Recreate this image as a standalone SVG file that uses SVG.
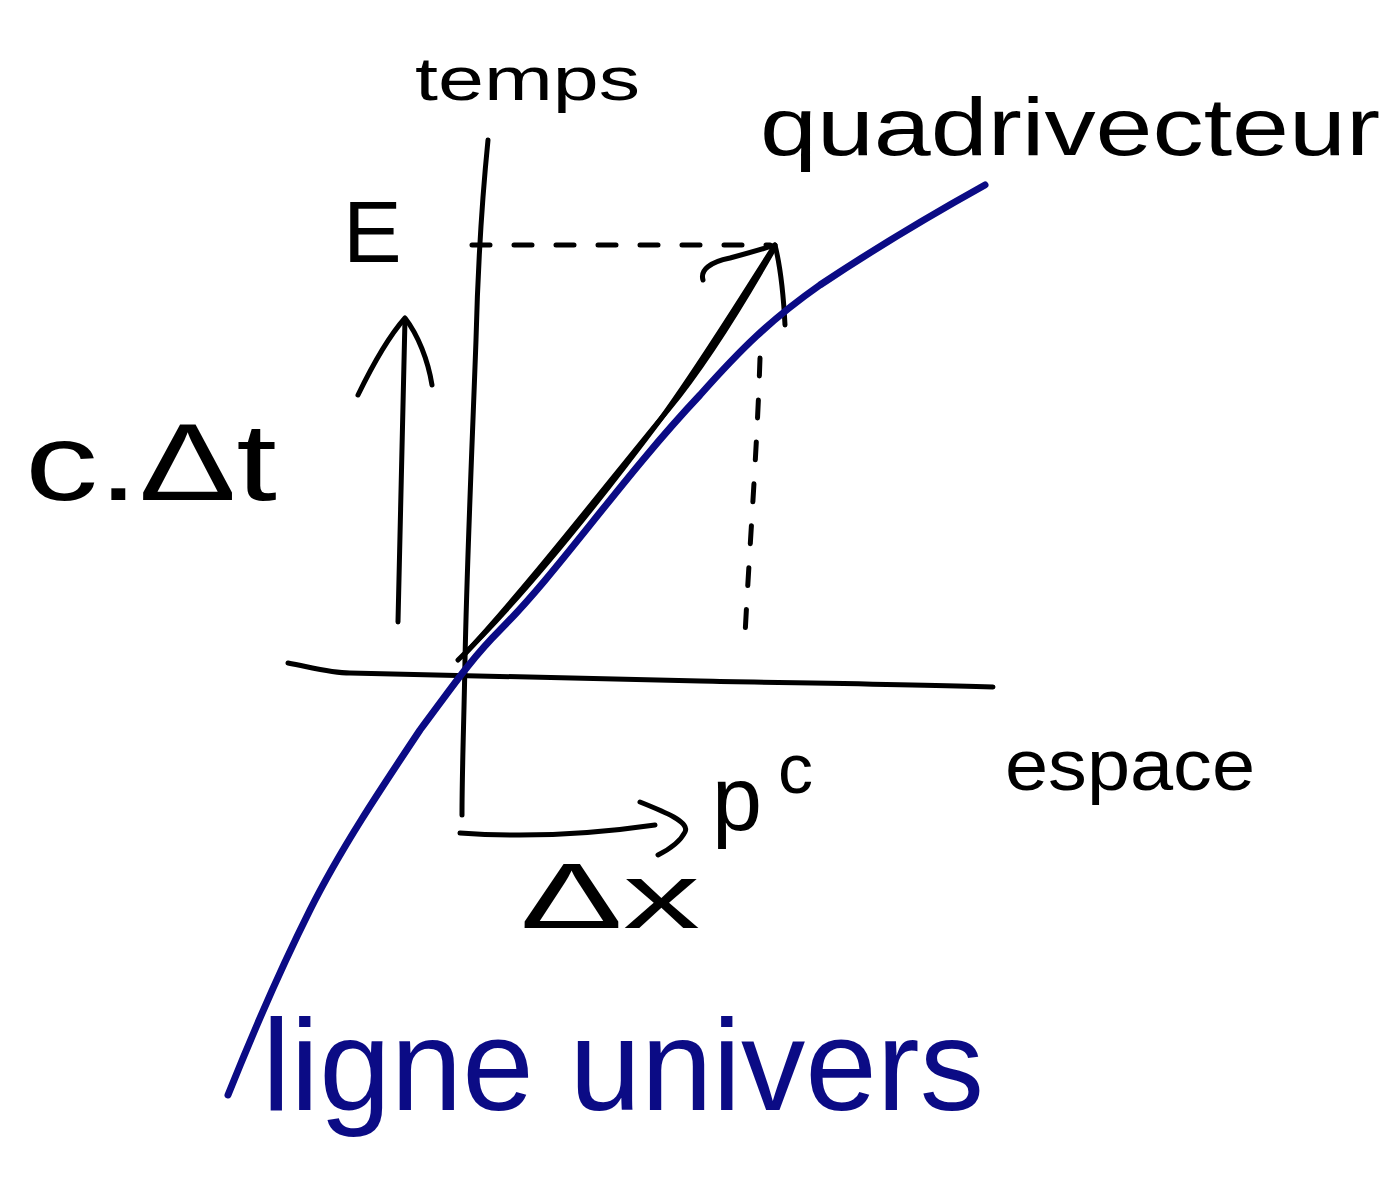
<svg xmlns="http://www.w3.org/2000/svg" width="1397" height="1188" viewBox="0 0 1397 1188">
<style>
.ink{fill:none;stroke:#000;stroke-width:5;stroke-linecap:round;stroke-linejoin:round}
.dash{fill:none;stroke:#000;stroke-width:5;stroke-linecap:round;stroke-dasharray:18 24}
.blue{fill:none;stroke:#0b0b85;stroke-width:7;stroke-linecap:round;stroke-linejoin:round}
.t{font-family:"Liberation Sans","DejaVu Sans",sans-serif;fill:#000}
.tb{font-family:"Liberation Sans","DejaVu Sans",sans-serif;fill:#0b0b85}
</style>
<rect width="1397" height="1188" fill="#fff"/>
<g id="connectors">
<path class="ink" d="M488,140 C482,200 478,260 476,340 C472,450 467,560 465,660 C464,720 462,770 462,815"/>
<path class="ink" d="M288,663 C310,667 330,673 350,673 C450,676 560,678 700,681 C800,683 900,684 993,687"/>
<path class="dash" d="M472,245 L770,245"/>
<path class="dash" d="M760,358 C757,450 750,540 745,635"/>
<path class="ink" d="M458,660 C520,600 600,500 660,420 C700,365 740,300 775,245"/>
<path class="ink" stroke-width="3" d="M463,656 C525,590 610,480 668,410 C705,365 745,300 775,247"/>
<path class="ink" d="M703,280 C700,270 710,262 730,258 C745,254 760,250 775,245 C780,265 783,285 785,325"/>
<path class="blue" d="M228,1095 C250,1040 280,970 310,910 C340,850 380,790 420,730 C450,690 470,660 500,630 C560,570 620,480 700,395 C740,350 770,320 820,285 C880,245 940,210 985,185"/>
<path class="ink" d="M398,622 C400,520 402,420 405,320"/>
<path class="ink" d="M358,395 C375,360 390,335 405,318 C418,335 428,360 432,385"/>
<path class="ink" d="M460,833 C530,838 600,833 655,825"/>
<path class="ink" d="M640,802 C665,812 690,822 685,832 C680,842 668,850 658,855"/>
</g>
<g id="label-temps"><text class="t" x="415" y="100" font-size="62" textLength="225" lengthAdjust="spacingAndGlyphs">temps</text></g>
<g id="label-quadrivecteur"><text class="t" x="760" y="155" font-size="82" textLength="620" lengthAdjust="spacingAndGlyphs">quadrivecteur</text></g>
<g id="label-E"><text class="t" x="343" y="262" font-size="88">E</text></g>
<g id="label-cdt"><text class="t" x="25" y="500" font-size="110" textLength="252" lengthAdjust="spacingAndGlyphs">c.Δt</text></g>
<g id="label-espace"><text class="t" x="1005" y="790" font-size="72" textLength="250" lengthAdjust="spacingAndGlyphs">espace</text></g>
<g id="label-pc"><text class="t" x="712" y="830" font-size="90">p</text><text class="t" x="778" y="793" font-size="70">c</text></g>
<g id="label-dx"><text class="t" x="520" y="928" font-size="92" textLength="180" lengthAdjust="spacingAndGlyphs">Δx</text></g>
<g id="label-ligne-univers"><text class="tb" x="262" y="1110" font-size="130" textLength="722" lengthAdjust="spacingAndGlyphs">ligne univers</text></g>
</svg>
